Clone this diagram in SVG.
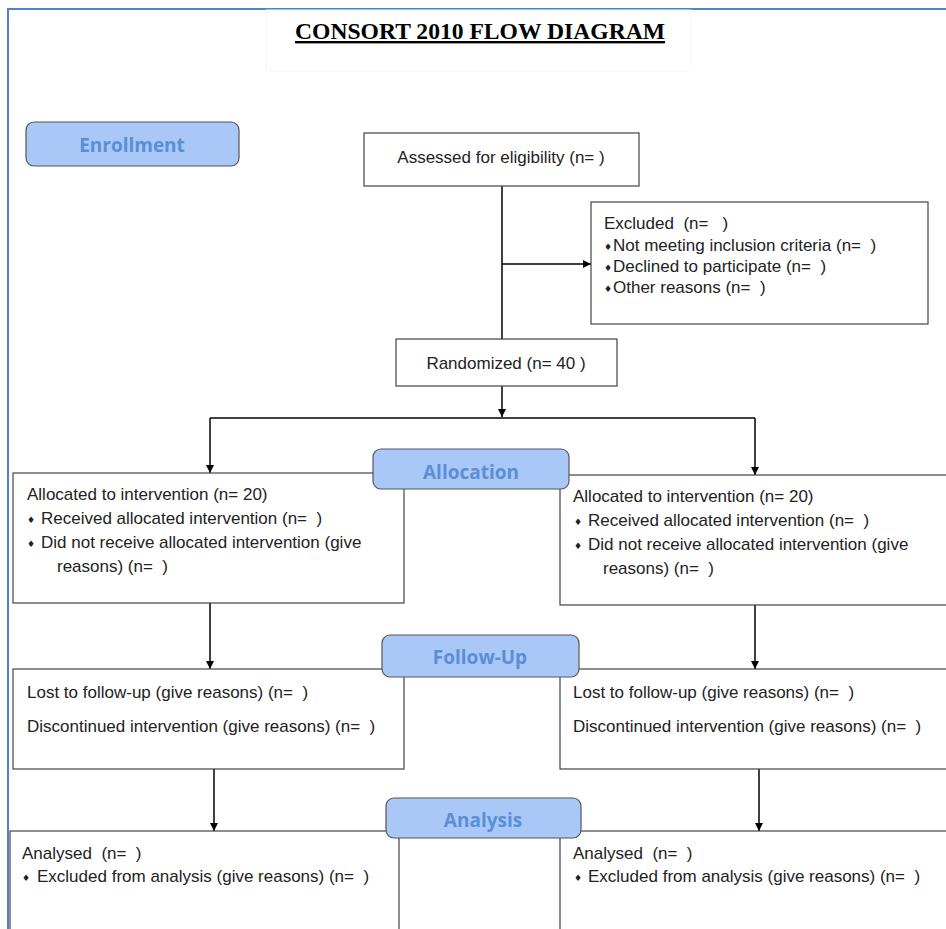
<svg xmlns="http://www.w3.org/2000/svg" width="946" height="929" viewBox="0 0 946 929">
<defs>
<marker id="ah" viewBox="0 0 10 10" refX="10" refY="5" markerWidth="8" markerHeight="8" markerUnits="userSpaceOnUse" orient="auto">
<path d="M0,0 L10,5 L0,10 z" fill="#000"/>
</marker>
</defs>
<style>
.box{fill:#fff;stroke:#444;stroke-width:1.2}
.lbl{fill:#a9c8f8;stroke:#555;stroke-width:1.2}
.lt{font-family:"Open Sans","Noto Sans",sans-serif;font-weight:bold;font-size:19px;fill:#5b8ed5;text-anchor:middle}
.t{font-family:"Liberation Sans",Arial,sans-serif;font-size:17px;fill:#222}
.c{text-anchor:middle}
.b{font-family:"DejaVu Sans",sans-serif;font-size:9px;fill:#222}
.ln{fill:none;stroke:#000;stroke-width:1.5}
</style>
<rect x="0" y="0" width="946" height="929" fill="#fff"/>
<rect x="8" y="9" width="960" height="940" fill="none" stroke="#4f80d3" stroke-width="2"/>
<rect x="266" y="10" width="425" height="61" fill="none" stroke="#f7f7f7" stroke-width="1"/>
<g id="title">
<text x="480" y="39" font-family="'Liberation Serif','Times New Roman',serif" font-weight="bold" font-size="24" text-anchor="middle" textLength="370" lengthAdjust="spacingAndGlyphs" text-decoration="underline" fill="#000">CONSORT 2010 FLOW DIAGRAM</text>
</g>
<g id="connectors">
<line class="ln" x1="502" y1="186" x2="502" y2="339"/>
<line class="ln" x1="502" y1="264" x2="591" y2="264" marker-end="url(#ah)"/>
<line class="ln" x1="502" y1="386" x2="502" y2="417" marker-end="url(#ah)"/>
<line class="ln" x1="210" y1="418" x2="755" y2="418"/>
<line class="ln" x1="210" y1="418" x2="210" y2="473" marker-end="url(#ah)"/>
<line class="ln" x1="755" y1="418" x2="755" y2="475" marker-end="url(#ah)"/>
<line class="ln" x1="210" y1="603" x2="210" y2="669" marker-end="url(#ah)"/>
<line class="ln" x1="755" y1="605" x2="755" y2="669" marker-end="url(#ah)"/>
<line class="ln" x1="214" y1="769" x2="214" y2="831" marker-end="url(#ah)"/>
<line class="ln" x1="759" y1="769" x2="759" y2="831" marker-end="url(#ah)"/>
</g>
<g id="assessed">
<rect class="box" x="364" y="133" width="275" height="53"/>
<text class="t c" x="501" y="163">Assessed for eligibility (n= )</text>
</g>
<g id="excluded">
<rect class="box" x="591" y="202" width="337" height="122"/>
<text class="t" x="604" y="229" xml:space="preserve">Excluded  (n=   )</text>
<text class="b" x="604" y="250">♦</text><text class="t" x="613" y="251" xml:space="preserve">Not meeting inclusion criteria (n=  )</text>
<text class="b" x="604" y="271">♦</text><text class="t" x="613" y="272" xml:space="preserve">Declined to participate (n=  )</text>
<text class="b" x="604" y="292">♦</text><text class="t" x="613" y="293" xml:space="preserve">Other reasons (n=  )</text>
</g>
<g id="randomized">
<rect class="box" x="396" y="339" width="221" height="47"/>
<text class="t c" x="506" y="369">Randomized (n= 40 )</text>
</g>
<g id="alloc-left">
<rect class="box" x="13" y="473" width="391" height="130"/>
<text class="t" x="27" y="500">Allocated to intervention (n= 20)</text>
<text class="b" x="27" y="523">♦</text><text class="t" x="41" y="524" xml:space="preserve">Received allocated intervention (n=  )</text>
<text class="b" x="27" y="547">♦</text><text class="t" x="41" y="548">Did not receive allocated intervention (give</text>
<text class="t" x="57" y="572" xml:space="preserve">reasons) (n=  )</text>
</g>
<g id="alloc-right">
<rect class="box" x="560" y="475" width="400" height="130"/>
<text class="t" x="573" y="502">Allocated to intervention (n= 20)</text>
<text class="b" x="574" y="525">♦</text><text class="t" x="588" y="526" xml:space="preserve">Received allocated intervention (n=  )</text>
<text class="b" x="574" y="549">♦</text><text class="t" x="588" y="550">Did not receive allocated intervention (give</text>
<text class="t" x="603" y="574" xml:space="preserve">reasons) (n=  )</text>
</g>
<g id="fu-left">
<rect class="box" x="13" y="669" width="391" height="100"/>
<text class="t" x="27" y="698" xml:space="preserve">Lost to follow-up (give reasons) (n=  )</text>
<text class="t" x="27" y="732" xml:space="preserve">Discontinued intervention (give reasons) (n=  )</text>
</g>
<g id="fu-right">
<rect class="box" x="560" y="669" width="400" height="100"/>
<text class="t" x="573" y="698" xml:space="preserve">Lost to follow-up (give reasons) (n=  )</text>
<text class="t" x="573" y="732" xml:space="preserve">Discontinued intervention (give reasons) (n=  )</text>
</g>
<g id="an-left">
<rect class="box" x="10" y="831" width="389" height="130"/>
<text class="t" x="22" y="859" xml:space="preserve">Analysed  (n=  )</text>
<text class="b" x="22" y="881">♦</text><text class="t" x="37" y="882" xml:space="preserve">Excluded from analysis (give reasons) (n=  )</text>
</g>
<g id="an-right">
<rect class="box" x="560" y="831" width="400" height="130"/>
<text class="t" x="573" y="859" xml:space="preserve">Analysed  (n=  )</text>
<text class="b" x="574" y="881">♦</text><text class="t" x="588" y="882" xml:space="preserve">Excluded from analysis (give reasons) (n=  )</text>
</g>
<g id="lbl-enrollment">
<rect class="lbl" x="26" y="122" width="213" height="44" rx="8"/>
<text class="lt" x="132" y="152">Enrollment</text>
</g>
<g id="lbl-allocation">
<rect class="lbl" x="373" y="449" width="196" height="40" rx="8"/>
<text class="lt" x="471" y="479">Allocation</text>
</g>
<g id="lbl-followup">
<rect class="lbl" x="382" y="635" width="197" height="42" rx="8"/>
<text class="lt" x="480" y="664">Follow-Up</text>
</g>
<g id="lbl-analysis">
<rect class="lbl" x="386" y="798" width="195" height="40" rx="8"/>
<text class="lt" x="483" y="827">Analysis</text>
</g>
</svg>
